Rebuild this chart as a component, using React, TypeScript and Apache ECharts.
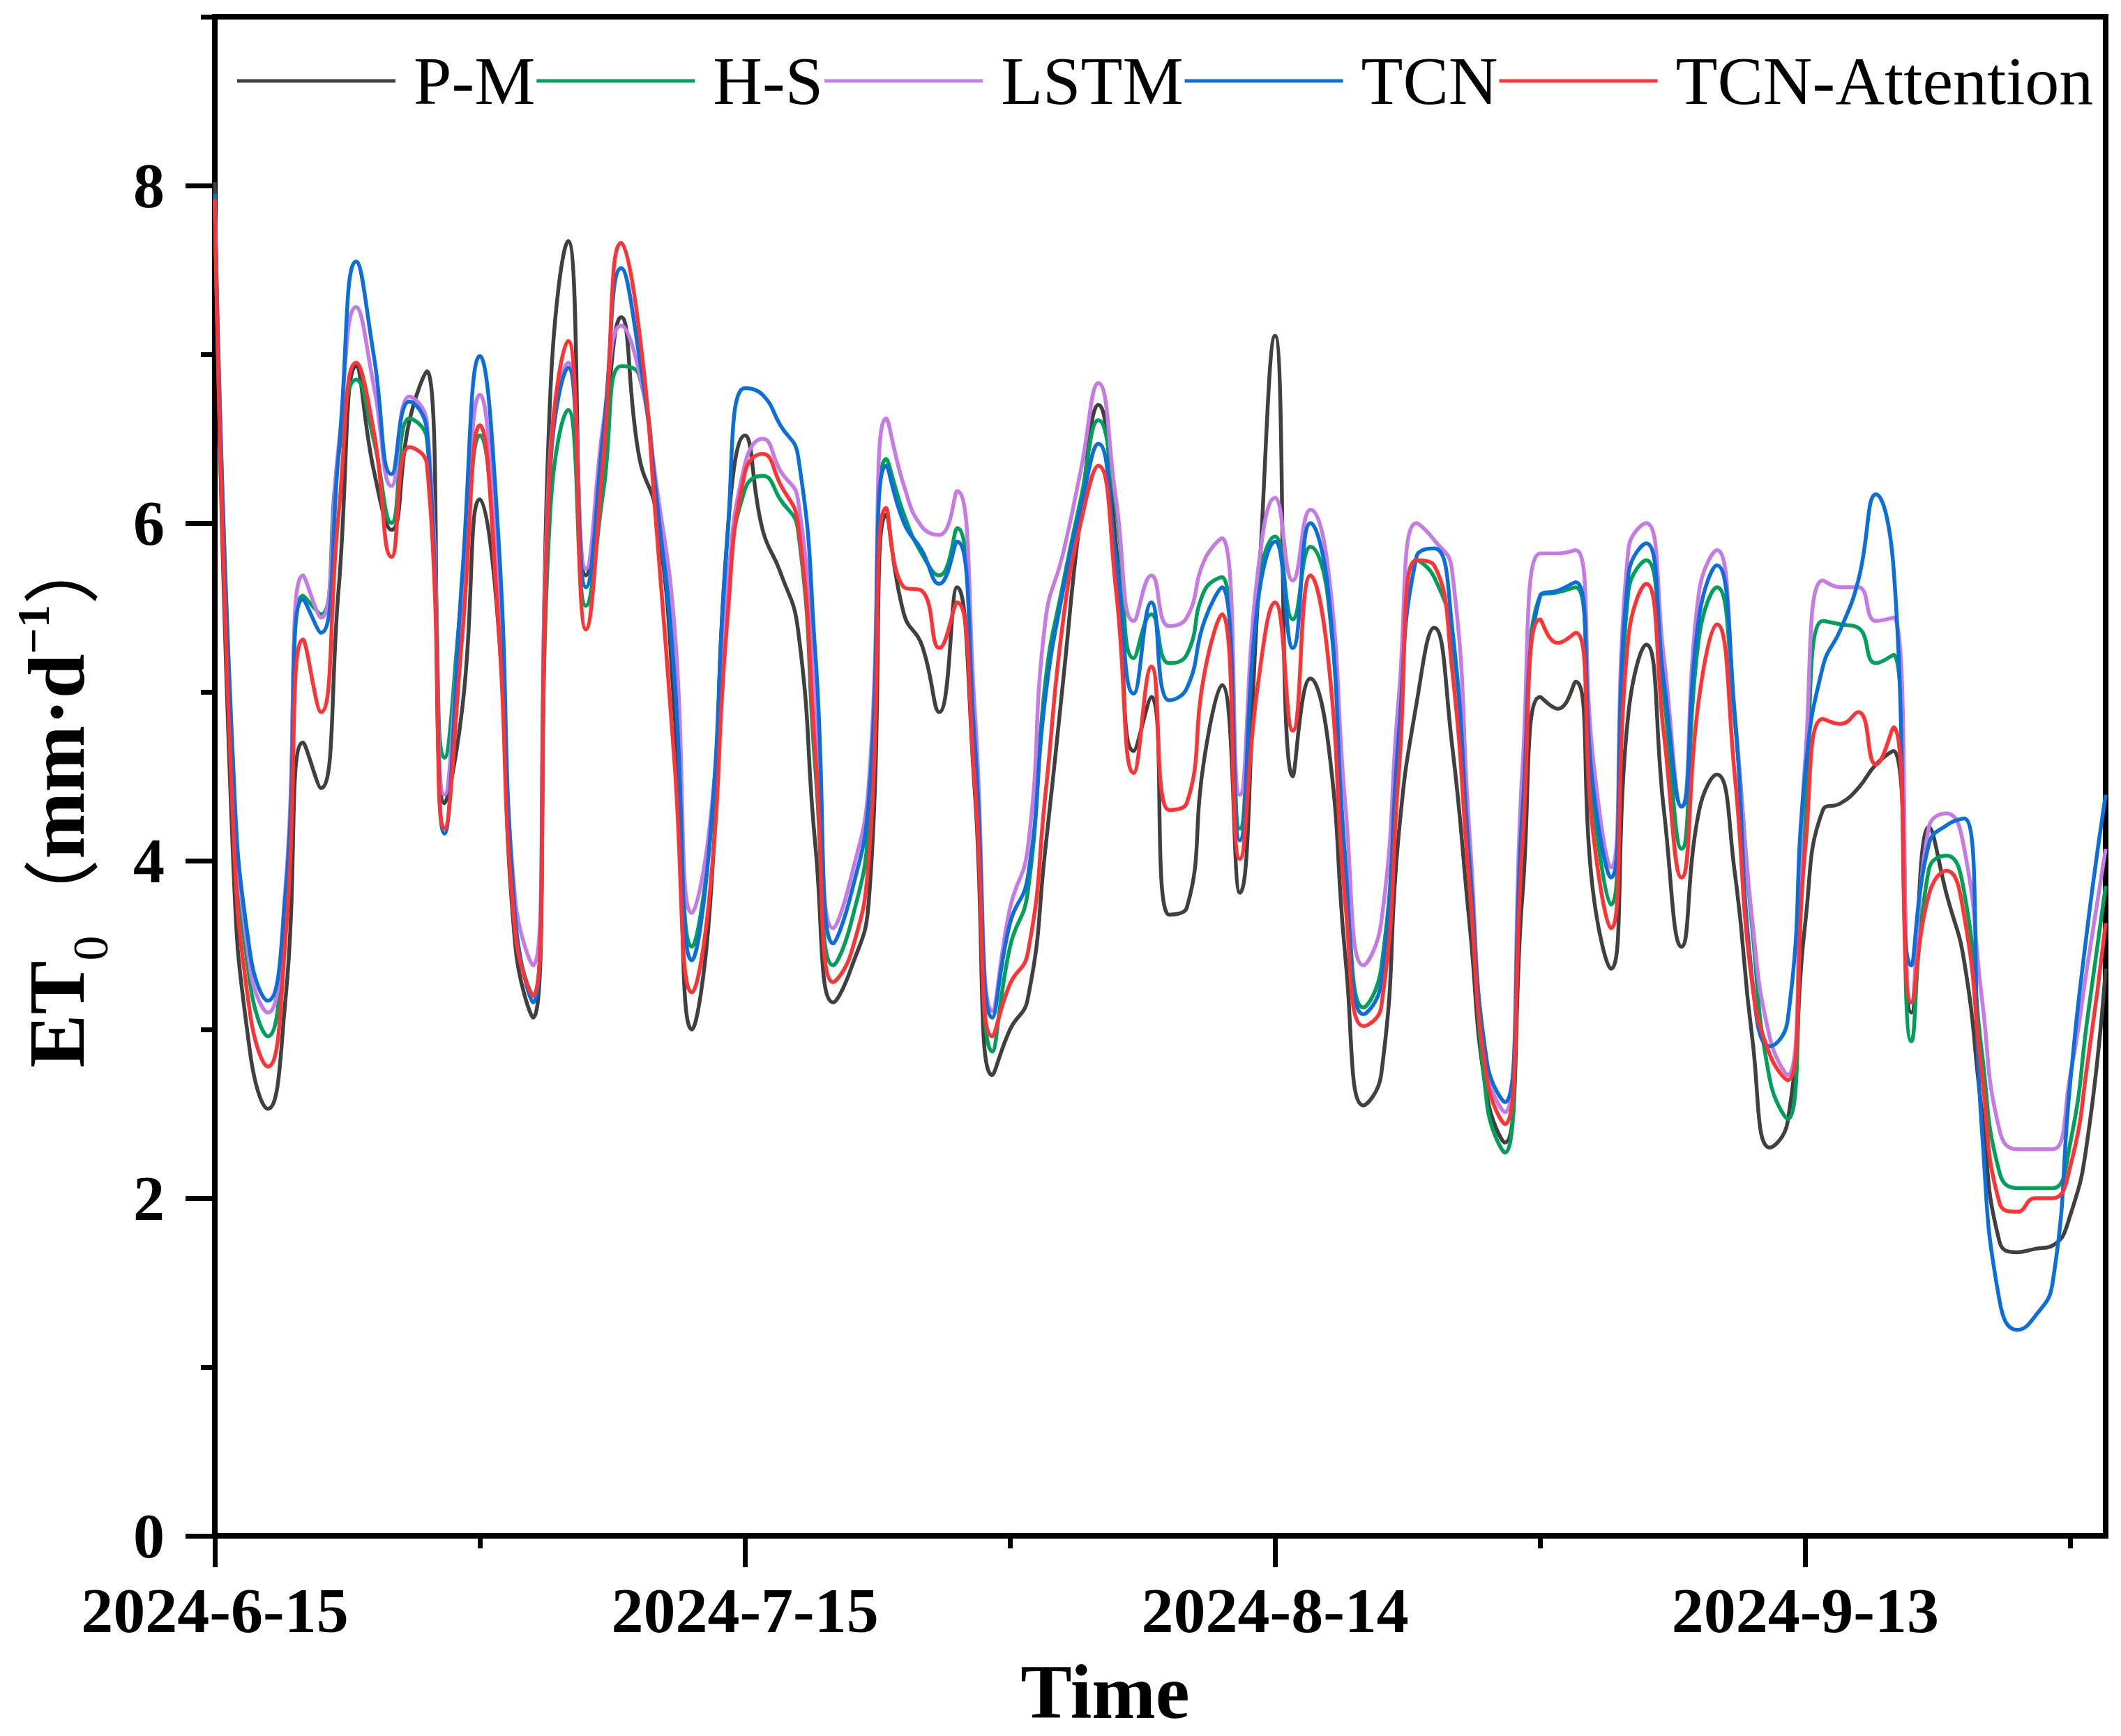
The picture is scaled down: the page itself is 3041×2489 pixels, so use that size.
import React, { useEffect, useRef } from "react";
import * as echarts from "echarts";

// Day offsets from 2024-6-15 (0 .. 107)
const dayOffsets: number[] = [
  0, 1, 2, 3, 4, 5, 6, 7, 8, 9, 10, 11, 12, 13, 14, 15, 16, 17, 18, 19,
  20, 21, 22, 23, 24, 25, 26, 27, 28, 29, 30, 31, 32, 33, 34, 35, 36, 37, 38, 39,
  40, 41, 42, 43, 44, 45, 46, 47, 48, 49, 50, 51, 52, 53, 54, 55, 56, 57, 58, 59,
  60, 61, 62, 63, 64, 65, 66, 67, 68, 69, 70, 71, 72, 73, 74, 75, 76, 77, 78, 79,
  80, 81, 82, 83, 84, 85, 86, 87, 88, 89, 90, 91, 92, 93, 94, 95, 96, 97, 98, 99,
  100, 101, 102, 103, 104, 105, 106, 107,
];

const xLabelDays = [0, 30, 60, 90];
const xLabelTexts = ["2024-6-15", "2024-7-15", "2024-8-14", "2024-9-13"];
const xMinorTickDays = [15, 45, 75, 105];
const yMajorTicks = [0, 2, 4, 6, 8];
const yMinorTicks = [1, 3, 5, 7, 9];

const seriesNames = ["P-M", "H-S", "LSTM", "TCN", "TCN-Attention"];
const seriesColors = ["#404040", "#00A05A", "#C57AE6", "#0A6FDB", "#FF3333"];

const pmValues = [
  8.02, 4.1, 2.86, 2.53, 3.18, 4.7, 4.43, 5.6, 6.93, 6.31,
  5.96, 6.6, 6.9, 4.34, 4.9, 6.14, 5.45, 3.5, 3.07, 6.8,
  7.67, 5.69, 6.5, 7.22, 6.4, 6.05, 4.9, 3.0, 3.7, 5.92,
  6.52, 5.96, 5.71, 5.37, 4.07, 3.16, 3.36, 3.75, 6.05, 5.46,
  5.28, 4.88, 5.62, 4.42, 2.73, 3.0, 3.18, 4.07, 5.06, 6.05,
  6.7, 5.87, 4.65, 4.97, 3.68, 3.72, 4.61, 5.04, 3.81, 5.5,
  7.11, 4.5, 5.08, 4.7, 3.4, 2.55, 2.73, 4.16, 4.93, 5.38,
  4.7, 3.63, 2.6, 2.33, 3.8, 4.97, 4.9, 5.06, 3.81, 3.36,
  4.88, 5.28, 4.3, 3.49, 4.3, 4.51, 3.94, 2.95, 2.3, 2.45,
  3.63, 4.3, 4.34, 4.43, 4.57, 4.65, 3.1, 4.2, 3.8, 3.4,
  2.51, 1.74, 1.68, 1.7, 1.72, 1.9, 2.37, 3.36,
];

const hsValues = [
  7.9, 4.5, 3.27, 2.96, 3.76, 5.57, 5.46, 6.4, 6.85, 6.49,
  6.0, 6.62, 6.5, 4.61, 5.6, 6.52, 5.55, 3.6, 3.2, 6.1,
  6.67, 5.51, 6.2, 6.93, 6.88, 6.14, 5.2, 3.49, 4.1, 5.6,
  6.2, 6.28, 6.14, 5.96, 4.52, 3.38, 3.63, 4.2, 6.38, 6.05,
  5.82, 5.69, 5.97, 4.68, 2.87, 3.49, 3.81, 5.06, 5.64, 6.14,
  6.61, 6.09, 5.2, 5.46, 5.17, 5.22, 5.6, 5.68, 4.19, 5.6,
  5.92, 5.43, 5.86, 5.55, 3.98, 3.13, 3.36, 4.7, 5.78, 5.68,
  5.33, 4.05, 2.55, 2.27, 4.3, 5.57, 5.59, 5.62, 4.35, 3.74,
  5.6, 5.78, 4.97, 4.07, 5.33, 5.62, 4.84, 3.6, 2.7, 2.47,
  4.3, 5.42, 5.4, 5.38, 5.17, 5.22, 2.93, 3.95, 4.03, 3.81,
  2.86, 2.15, 2.06, 2.06, 2.06, 2.33, 3.09, 3.85,
];

const lstmValues = [
  7.92, 4.65, 3.36, 3.1, 3.85, 5.69, 5.44, 6.45, 7.28, 6.81,
  6.22, 6.75, 6.6, 4.39, 5.6, 6.76, 5.67, 3.77, 3.38, 6.45,
  6.95, 5.73, 6.6, 7.17, 6.9, 6.22, 5.4, 3.69, 4.2, 5.6,
  6.35, 6.5, 6.31, 6.14, 4.88, 3.6, 3.9, 4.45, 6.62, 6.22,
  5.98, 5.93, 6.19, 4.9, 3.11, 3.72, 4.07, 5.42, 5.82, 6.31,
  6.83, 6.14, 5.42, 5.69, 5.39, 5.44, 5.78, 5.91, 4.39, 5.69,
  6.15, 5.66, 6.08, 5.73, 4.3, 3.38, 3.63, 4.97, 6.0, 5.9,
  5.73, 4.16, 2.75, 2.51, 4.55, 5.82, 5.82, 5.84, 4.6, 3.96,
  5.85, 6.0, 5.2, 4.32, 5.6, 5.84, 4.88, 3.65, 2.95, 2.73,
  4.6, 5.66, 5.62, 5.62, 5.42, 5.44, 3.16, 4.2, 4.28, 4.07,
  3.18, 2.4, 2.29, 2.29, 2.29, 2.73, 3.4, 4.07,
];

const tcnValues = [
  7.95, 4.65, 3.45, 3.17, 3.8, 5.55, 5.35, 6.4, 7.55, 6.99,
  6.29, 6.72, 6.55, 4.16, 5.69, 6.99, 6.0, 3.66, 3.16, 6.35,
  6.92, 5.62, 6.55, 7.51, 7.0, 6.15, 5.1, 3.41, 4.1, 5.9,
  6.8, 6.76, 6.58, 6.4, 5.2, 3.51, 3.8, 4.35, 6.34, 6.0,
  5.84, 5.64, 5.89, 4.71, 3.07, 3.63, 3.9, 4.97, 5.6, 6.09,
  6.47, 5.78, 4.99, 5.53, 4.95, 5.02, 5.42, 5.62, 4.12, 5.51,
  5.89, 5.26, 6.0, 5.6, 3.94, 3.09, 3.27, 4.75, 5.8, 5.85,
  5.4, 4.0, 2.8, 2.57, 4.3, 5.57, 5.6, 5.65, 4.43, 3.9,
  5.7, 5.88, 5.06, 4.32, 5.45, 5.75, 4.88, 3.3, 2.9, 3.05,
  4.52, 5.15, 5.37, 5.66, 6.17, 5.73, 3.38, 4.1, 4.21, 4.25,
  2.4, 1.39, 1.22, 1.3, 1.5, 2.69, 3.63, 4.39,
];

const attValues = [
  7.92, 4.3, 3.09, 2.78, 3.54, 5.31, 4.88, 6.05, 6.95, 6.54,
  5.8, 6.45, 6.35, 4.19, 5.33, 6.58, 5.48, 3.57, 3.2, 6.4,
  7.08, 5.37, 6.4, 7.66, 7.15, 5.96, 4.6, 3.22, 3.8, 5.42,
  6.3, 6.41, 6.23, 6.0, 4.61, 3.28, 3.45, 4.0, 6.09, 5.62,
  5.6, 5.26, 5.53, 4.46, 2.96, 3.27, 3.45, 4.39, 5.42, 6.0,
  6.34, 5.6, 4.52, 5.15, 4.3, 4.34, 5.11, 5.46, 4.01, 5.02,
  5.53, 4.77, 5.69, 5.2, 3.72, 3.02, 3.13, 4.52, 5.78, 5.75,
  5.15, 3.85, 2.7, 2.44, 4.1, 5.43, 5.29, 5.35, 4.16, 3.6,
  5.33, 5.64, 4.75, 3.9, 4.97, 5.4, 4.52, 3.27, 2.85, 2.7,
  4.07, 4.84, 4.81, 4.88, 4.57, 4.79, 3.16, 3.8, 3.94, 3.67,
  2.73, 1.97, 1.92, 2.0, 2.0, 2.19, 2.82, 3.63,
];

const seriesValues = [pmValues, hsValues, lstmValues, tcnValues, attValues];

const SERIF = '"Liberation Serif", "Times New Roman", "Noto Sans CJK SC", serif';

export default function App() {
  const ref = useRef<HTMLDivElement>(null);

  useEffect(() => {
    if (!ref.current) return;
    const chart = echarts.init(ref.current, undefined, { renderer: "svg" });

    const axisLineStyle = { color: "#000", width: 8 };

    const option: any = {
      animation: false,
      backgroundColor: "#fff",
      grid: {
        left: 308,
        right: 22,
        top: 24,
        bottom: 287,
        show: true,
        borderColor: "#000",
        borderWidth: 8,
        backgroundColor: "transparent",
        containLabel: false,
      },
      legend: {
        show: true,
        left: 335,
        top: 62,
        width: 2700,
        itemWidth: 227,
        itemHeight: 5,
        itemGap: 2,
        icon: "rect",
        selectedMode: false,
        data: seriesNames,
        textStyle: {
          fontFamily: SERIF,
          fontSize: 98,
          color: "#000",
          padding: [0, 0, 0, 21],
        },
      },
      xAxis: [
        {
          type: "value",
          min: 0,
          max: 107,
          position: "bottom",
          axisLine: { show: true, onZero: false, lineStyle: axisLineStyle },
          axisTick: {
            show: true,
            customValues: xMinorTickDays,
            length: 18,
            lineStyle: { color: "#000", width: 7 },
          },
          axisLabel: {
            show: true,
            customValues: xLabelDays,
            margin: 61,
            fontFamily: SERIF,
            fontWeight: "bold",
            fontSize: 92,
            color: "#000",
            formatter: (v: number) => {
              const i = xLabelDays.indexOf(Math.round(v));
              return i >= 0 ? xLabelTexts[i] : "";
            },
          },
          splitLine: { show: false },
          name: "Time",
          nameLocation: "middle",
          nameGap: 169,
          nameTextStyle: {
            fontFamily: SERIF,
            fontWeight: "bold",
            fontSize: 110,
            color: "#000",
            padding: [0, 158, 0, 0],
          },
        },
        {
          type: "value",
          min: 0,
          max: 107,
          position: "bottom",
          axisLine: { show: false },
          axisTick: {
            show: true,
            customValues: xLabelDays,
            length: 45,
            lineStyle: { color: "#000", width: 7 },
          },
          axisLabel: { show: false },
          splitLine: { show: false },
        },
      ],
      yAxis: [
        {
          type: "value",
          min: 0,
          max: 9,
          position: "left",
          axisLine: { show: true, onZero: false, lineStyle: axisLineStyle },
          axisTick: {
            show: true,
            customValues: yMajorTicks,
            length: 42,
            lineStyle: { color: "#000", width: 7 },
          },
          axisLabel: {
            show: true,
            customValues: yMajorTicks,
            margin: 72,
            fontFamily: SERIF,
            fontWeight: "bold",
            fontSize: 90,
            color: "#000",
          },
          splitLine: { show: false },
          name: "{a|ET}{b|0}{p|（}{a|mm·d}{c|−1}{p|）}",
          nameLocation: "middle",
          nameRotate: 90,
          nameGap: 142,
          nameTextStyle: {
            padding: [0, 62, 0, 0],
            rich: {
              a: {
                fontFamily: SERIF,
                fontWeight: "bold",
                fontSize: 115,
                color: "#000",
                lineHeight: 170,
                verticalAlign: "middle",
              },
              b: {
                fontFamily: SERIF,
                fontWeight: "normal",
                fontSize: 72,
                color: "#000",
                verticalAlign: "bottom",
              },
              c: {
                fontFamily: SERIF,
                fontWeight: "bold",
                fontSize: 66,
                color: "#000",
                verticalAlign: "top",
                padding: [18, 0, 0, 0],
              },
              p: {
                fontFamily: '"Noto Sans CJK SC", sans-serif',
                fontWeight: "normal",
                fontSize: 110,
                color: "#000",
                lineHeight: 170,
                verticalAlign: "middle",
              },
            },
          },
        },
        {
          type: "value",
          min: 0,
          max: 9,
          position: "left",
          axisLine: { show: false },
          axisTick: {
            show: true,
            customValues: yMinorTicks,
            length: 20,
            lineStyle: { color: "#000", width: 7 },
          },
          axisLabel: { show: false },
          splitLine: { show: false },
        },
      ],
      series: seriesNames.map((name, si) => ({
        name,
        type: "line",
        xAxisIndex: 0,
        yAxisIndex: 0,
        smooth: 0.5,
        symbol: "none",
        showSymbol: false,
        lineStyle: { color: seriesColors[si], width: 5.5 },
        itemStyle: { color: seriesColors[si] },
        data: dayOffsets.map((d, i) => [d, seriesValues[si][i]]),
      })),
    };

    chart.setOption(option);
    return () => chart.dispose();
  }, []);

  return (
    <div
      ref={ref}
      style={{ position: "absolute", left: 0, top: 0, width: 3041, height: 2489, background: "#fff" }}
    />
  );
}
